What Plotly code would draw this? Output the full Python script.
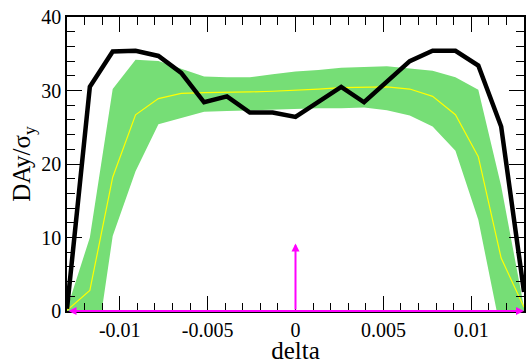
import plotly.graph_objects as go

# delta samples (21 points, step 0.0013)
delta = [round(-0.013 + 0.0013 * i, 5) for i in range(21)]

# dynamic aperture for the reference lattice
da_ref = [0.3, 30.5, 35.3, 35.4, 34.7, 32.4, 28.4, 29.2, 27.0, 27.0, 26.4,
          28.5, 30.5, 28.4, 31.1, 34.0, 35.4, 35.4, 33.4, 25.1, 2.6]

# mean over seeds and the +/- spread band
da_mean = [0.1, 2.8, 18.2, 26.7, 28.9, 29.6, 29.7, 29.7, 29.8, 29.9, 30.0,
           30.2, 30.4, 30.5, 30.5, 30.2, 29.2, 26.7, 21.0, 7.2, 0.5]
da_upper = [0.3, 10.0, 30.2, 34.2, 34.0, 33.0, 31.9, 31.8, 31.8, 32.2, 32.6,
            32.8, 33.1, 33.2, 33.3, 33.0, 32.7, 31.8, 30.1, 17.0, 0.5]
da_lower = [0.0, -11.0, 10.2, 19.0, 25.4, 26.2, 27.1, 27.2, 27.3, 27.4, 27.6,
            27.6, 27.6, 27.7, 27.3, 26.6, 25.1, 21.8, 12.4, -3.0, 0.0]

x_tickvals = [-0.01, -0.005, 0, 0.005, 0.01]
x_ticktext = ["-0.01", "-0.005", "0", "0.005", "0.01"]
y_tickvals = [0, 10, 20, 30, 40]

# magenta markers: energy-acceptance span and the nominal-momentum pointer
span_x = [-0.013, 0.013]
pointer_x = 0.0
pointer_top = 9.2

fig = go.Figure()
fig.add_trace(go.Scatter(x=delta, y=da_lower, mode="lines",
                         line=dict(width=0, color="rgba(0,0,0,0)"),
                         showlegend=False, hoverinfo="skip"))
fig.add_trace(go.Scatter(x=delta, y=da_upper, mode="lines", fill="tonexty",
                         fillcolor="rgb(118,222,118)",
                         line=dict(width=0, color="rgba(0,0,0,0)"),
                         showlegend=False, hoverinfo="skip"))
fig.add_trace(go.Scatter(x=delta, y=da_mean, mode="lines",
                         line=dict(color="#ffff00", width=1.2),
                         showlegend=False))
fig.add_trace(go.Scatter(x=delta, y=da_ref, mode="lines",
                         line=dict(color="black", width=4.5),
                         showlegend=False))

fig.add_annotation(x=span_x[1], y=0, ax=span_x[0], ay=0,
                   xref="x", yref="y", axref="x", ayref="y",
                   showarrow=True, arrowhead=2, startarrowhead=2,
                   arrowside="end+start", arrowwidth=2, arrowsize=0.8,
                   startarrowsize=0.8, arrowcolor="#ff00ff", text="")
fig.add_annotation(x=pointer_x, y=pointer_top, ax=pointer_x, ay=0,
                   xref="x", yref="y", axref="x", ayref="y",
                   showarrow=True, arrowhead=2, arrowwidth=2, arrowsize=0.8,
                   arrowcolor="#ff00ff", text="")

serif = "Liberation Serif, Times New Roman, serif"
axis_common = dict(showline=True, linecolor="black", linewidth=1.5,
                   mirror="allticks", ticks="inside", ticklen=15,
                   tickwidth=1.2, tickcolor="black", showgrid=False,
                   zeroline=False,
                   tickfont=dict(family=serif, size=20, color="black"))

fig.update_xaxes(range=[-0.013, 0.013], tickvals=x_tickvals,
                 ticktext=x_ticktext,
                 minor=dict(dtick=0.001, tick0=0, ticks="inside", ticklen=8,
                            tickwidth=1.2, tickcolor="black"),
                 title=dict(text="delta", standoff=0,
                            font=dict(family=serif, size=25, color="black")),
                 **axis_common)
fig.update_yaxes(range=[0, 40], tickvals=y_tickvals,
                 minor=dict(dtick=2, tick0=0, ticks="inside", ticklen=8,
                            tickwidth=1.2, tickcolor="black"),
                 title=dict(text="DAy/σ<sub>y</sub>", standoff=4,
                            font=dict(family=serif, size=25, color="black")),
                 **axis_common)

fig.update_layout(width=532, height=364,
                  margin=dict(l=67, r=6, t=17, b=48),
                  paper_bgcolor="white", plot_bgcolor="white",
                  font=dict(family=serif, color="black"))

fig.write_html("out.html")
